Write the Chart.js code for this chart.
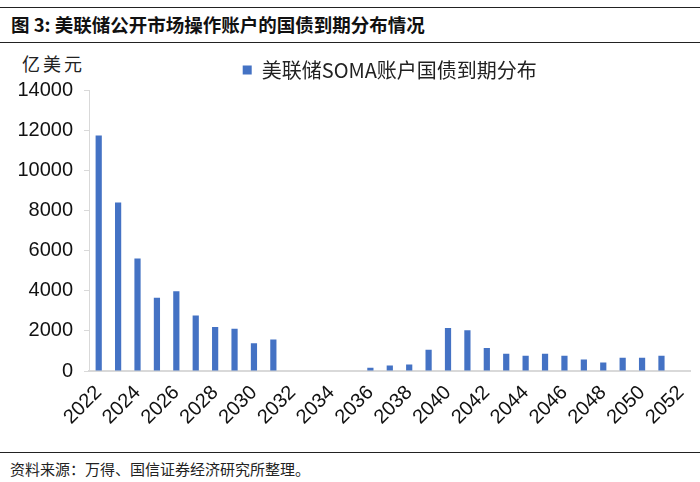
<!DOCTYPE html>
<html>
<head>
<meta charset="utf-8">
<script src="https://cdn.jsdelivr.net/npm/chart.js@4"></script>
<style>
body { margin: 0; background: #fff; }
#page { position: relative; width: 700px; height: 482px; overflow: hidden; font-family: "Noto Sans CJK SC", sans-serif; }
#title { position: absolute; left: 0; top: 7px; width: 700px; height: 34px; border-top: 1px solid #222; border-bottom: 1px solid #222; }
#title span { position: absolute; left: 11px; top: 3px; font-size: 18.5px; font-weight: bold; color: #111; white-space: nowrap; }
#unit { position: absolute; left: 22px; top: 50px; font-size: 18px; letter-spacing: 3px; color: #222; }
#foot { position: absolute; left: 0; top: 452px; width: 700px; border-top: 1px solid #222; }
#foot span { position: absolute; left: 10px; top: 5px; font-size: 15px; color: #222; white-space: nowrap; }
#wrap { position: absolute; left: 0; top: 57px; width: 700px; height: 393px; }
</style>
</head>
<body>
<div id="page">
<div id="title"><span>图 3: 美联储公开市场操作账户的国债到期分布情况</span></div>
<div id="unit">亿美元</div>
<div id="wrap"><canvas id="myChart"></canvas></div>
<div id="foot"><span>资料来源：万得、国信证券经济研究所整理。</span></div>
</div>
<script>
/* Data */
var years = [];
for (let y = 2022; y <= 2052; y++) {
    years.push(String(y));
}
var maturity = [11730, 8400, 5600, 3650, 3975, 2760, 2190, 2110, 1380, 1570,
    0, 0, 0, 0,
    165, 275, 325, 1055, 2140, 2030, 1150, 860, 765, 860, 765, 570, 420, 665, 665, 765,
    0];
var yTicks = [0, 2000, 4000, 6000, 8000, 10000, 12000, 14000];
var seriesName = '美联储SOMA账户国债到期分布';
/* End Data */

const data_maturity = {
    labels: years,
    datasets: [
    {
        label: seriesName,
        backgroundColor: '#4472C4',
        data: maturity,
        barPercentage: 0.32,
        categoryPercentage: 1
    }
    ]
};
const config_maturity = {
    type: 'bar',
    data: data_maturity,
    options: {
        responsive: true,
        maintainAspectRatio: false,
        animation: false,
        layout: { padding: { left: 0, right: 8, top: 0, bottom: 4 } },
        plugins: {
            tooltip: { enabled: false },
            legend: {
                display: true,
                fullSize: false,
                labels: {
                    boxWidth: 9,
                    boxHeight: 9,
                    padding: 3,
                    color: '#222',
                    font: { family: '"Noto Sans CJK SC", sans-serif', size: 20 }
                }
            }
        },
        scales: {
            x: {
                grid: { display: false },
                border: { display: true, color: '#d9d9d9', width: 2 },
                ticks: {
                    autoSkip: false,
                    minRotation: 45,
                    maxRotation: 45,
                    padding: 2,
                    color: '#111',
                    font: { family: '"Liberation Sans", Arial, sans-serif', size: 20 },
                    callback: function(value, index) {
                        return index % 2 == 0 ? years[index] : '';
                    }
                },
                afterFit: function(scale) { scale.height = 75; }
            },
            y: {
                min: 0,
                max: 14000,
                grid: { drawOnChartArea: false, drawTicks: true, tickLength: 5, color: '#d9d9d9' },
                border: { display: true, color: '#d9d9d9', width: 1 },
                afterBuildTicks: function(scale) {
                    scale.ticks = yTicks.map(function(v) { return { value: v }; });
                },
                ticks: {
                    padding: 11,
                    color: '#111',
                    font: { family: '"Liberation Sans", Arial, sans-serif', size: 20 },
                    callback: function(value) { return String(value); }
                },
                afterFit: function(scale) { scale.width = 89; }
            }
        }
    }
};
var myChart_maturity = new Chart(
    document.getElementById('myChart'),
    config_maturity
);
</script>
</body>
</html>
